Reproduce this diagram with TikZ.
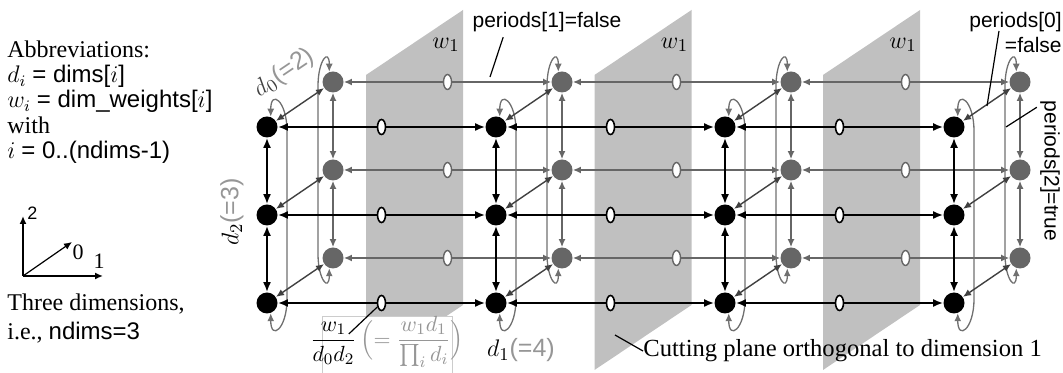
\documentclass[tikz,border=0pt]{standalone}
\usepackage{amsmath}
\usepackage{fontspec}
\setmainfont{Liberation Serif}
\setsansfont{Liberation Sans}
\usetikzlibrary{positioning,arrows.meta,calc,shapes.geometric}
\definecolor{planegray}{RGB}{192,192,192}
\definecolor{backgray}{RGB}{102,102,102}
\definecolor{diaggray}{RGB}{64,64,64}
\definecolor{loopgray}{RGB}{112,112,112}
\definecolor{labelgray}{RGB}{150,150,150}
\tikzset{
  frontdot/.style={circle, fill=black, minimum size=10.5pt, inner sep=0pt},
  backdot/.style={circle, fill=backgray, minimum size=10.5pt, inner sep=0pt},
  frontlink/.style={{Latex[length=5pt,width=4pt]}-{Latex[length=5pt,width=4pt]}, line width=0.9pt, black},
  backlink/.style={{Latex[length=4pt,width=3.5pt]}-{Latex[length=4pt,width=3.5pt]}, line width=0.7pt, backgray},
  diaglink/.style={{Latex[length=4pt,width=3.5pt]}-{Latex[length=4pt,width=3.5pt]}, line width=0.7pt, diaggray},
  wraploop/.style={{Latex[length=4pt,width=3.5pt]}-{Latex[length=4pt,width=3.5pt]}, line width=0.65pt, loopgray},
  frontmark/.style={ellipse, draw=black, fill=white, line width=0.8pt, minimum width=4pt, minimum height=7.5pt, inner sep=0pt},
  backmark/.style={ellipse, draw=backgray, fill=white, line width=0.7pt, minimum width=4pt, minimum height=7.5pt, inner sep=0pt},
  cutplane/.style={fill=planegray, draw=none},
  leader/.style={line width=0.6pt, black},
  axisarrow/.style={-{Latex[length=4pt,width=3.5pt]}, line width=0.9pt},
  sidetext/.style={align=left, inner sep=0pt, font=\fontsize{12}{12.7}\selectfont},
  tagtext/.style={inner sep=0pt, font=\sffamily\fontsize{10.5}{12.5}\selectfont},
  dimlabel/.style={inner sep=0pt, font=\fontsize{12.5}{12.5}\selectfont},
  weightlabel/.style={inner sep=0pt, font=\fontsize{12.5}{12.5}\selectfont}
}

\begin{document}
\begin{tikzpicture}[x=0.5pt, y=0.5pt]
  \useasboundingbox (0,0) rectangle (1063,373);

  % cutting planes orthogonal to dimension 1
  \foreach \p in {0,1,2}
    \fill[cutplane] ({366+228.5*\p},298) -- ({463+228.5*\p},363) -- ({463+228.5*\p},68) -- ({366+228.5*\p},3) -- cycle;
  \foreach \p in {0,1,2}
    \node[weightlabel] (wlab\p) at ({446+228.5*\p},328) {$w_1$};

  % processes: front layer (black) and back layer (gray)
  \foreach \c in {1,...,4}
    \foreach \r in {1,2,3} {
      \node[frontdot] (f\c\r) at ({267+229*(\c-1)},{246-88*(\r-1)}) {};
      \node[backdot] (k\c\r) at ({333+229*(\c-1)},{291-88*(\r-1)}) {};
    }

  % back layer links
  \foreach \c [evaluate=\c as \nx using int(\c+1)] in {1,2,3}
    \foreach \r in {1,2,3}
      \draw[backlink] (k\c\r) -- node[backmark] (mk\c\r) {} (k\nx\r);
  \foreach \c in {1,...,4} {
    \draw[backlink] (k\c1) -- (k\c2);
    \draw[backlink] (k\c2) -- (k\c3);
  }

  % periodic wrap in dimension 2
  \foreach \c in {1,...,4} {
    \draw[wraploop] (k\c1.110) .. controls +(0,24) and +(0,26) .. ($(k\c1)+(-15,-4)$) -- ($(k\c3)+(-15,4)$) .. controls +(0,-26) and +(0,-24) .. (k\c3.-110);
    \draw[wraploop] (f\c1.70) .. controls +(0,28) and +(0,30) .. ($(f\c1)+(20,-4)$) -- ($(f\c3)+(20,4)$) .. controls +(0,-30) and +(0,-28) .. (f\c3.-70);
  }

  % links along dimension 0
  \foreach \c in {1,...,4}
    \foreach \r in {1,2,3}
      \draw[diaglink] (f\c\r) -- (k\c\r);

  % front layer links
  \foreach \c [evaluate=\c as \nx using int(\c+1)] in {1,2,3}
    \foreach \r in {1,2,3}
      \draw[frontlink] (f\c\r) -- node[frontmark] (mf\c\r) {} (f\nx\r);
  \foreach \c in {1,...,4} {
    \draw[frontlink] (f\c1) -- (f\c2);
    \draw[frontlink] (f\c2) -- (f\c3);
  }

  % dimension sizes
  \node[dimlabel, rotate=90] (dtwo) at (232,161) {$d_2$\textcolor{labelgray}{\sffamily(=3)}};
  \node[dimlabel, rotate=34, text=diaggray] (dzero) at (284,300) {$d_0$\textcolor{labelgray}{\sffamily(=2)}};
  \node[dimlabel] (done) at (521,23) {$d_1$\textcolor{labelgray}{\sffamily(=4)}};

  % edge weight
  \filldraw[draw=black!20, fill=white] (322,57) rectangle (452,-6);
  \node[inner sep=0pt, font=\fontsize{11}{11}\selectfont] (wfrac) at (387,31)
    {$\dfrac{w_1}{d_0d_2}$\,\textcolor{labelgray}{$\Bigl(=\dfrac{w_1d_1}{\prod\nolimits_i d_i}\Bigr)$}};
  \draw[leader] ($(wfrac.west)+(39,8)$) -- (mf13);

  % periods
  \node[tagtext] (per1) at (547,351) {periods[1]=false};
  \coordinate (per1tip) at (490,296);
  \draw[leader] ($(per1.south west)+(31,-5)$) -- (per1tip);
  \node[tagtext, align=right, anchor=east] (per0) at (1062,340) {periods[0]\\=false};
  \coordinate (per0tip) at (987,267);
  \draw[leader] ($(per0.west)+(30,2)$) -- (per0tip);
  \node[tagtext, rotate=-90] (per2) at (1050,202) {periods[2]=true};
  \coordinate (per2tip) at (1006,246);
  \draw[leader] ($(per2.south west)+(-3,-7)$) -- (per2tip);

  % cutting plane note
  \node[anchor=west, inner sep=0pt, font=\fontsize{12.3}{12.3}\selectfont] (cutlab) at (643,22) {Cutting plane orthogonal to dimension 1};
  \coordinate (cuttip) at (615,38);
  \draw[leader] (cutlab.west) -- (cuttip);

  % legend
  \node[sidetext, anchor=north west] (abbr) at (7,333) {Abbreviations:\\
    $d_i$ \textsf{= dims[}$i$\textsf{]}\\
    $w_i$ \textsf{= dim\_weights[}$i$\textsf{]}\\
    with\\
    $i$ \textsf{= 0..(ndims-1)}};
  \coordinate (ax0) at (23,97);
  \coordinate (ax1) at (103,97);
  \coordinate (ax2) at (23,157);
  \coordinate (axd) at (72,131);
  \draw[axisarrow] (ax0) -- (ax2);
  \draw[axisarrow] (ax0) -- (ax1);
  \draw[axisarrow, line width=0.6pt] (ax0) -- (axd);
  \node[inner sep=0pt, font=\sffamily\fontsize{9}{9}\selectfont, anchor=west] (axlab2) at (27,160) {2};
  \node[inner sep=0pt, font=\fontsize{11}{11}\selectfont] (axlab0) at (78,121) {0};
  \node[inner sep=0pt, font=\fontsize{11}{11}\selectfont] (axlab1) at (99,112) {1};
  \node[sidetext, anchor=north west, font=\fontsize{12}{14.5}\selectfont] (ndims) at (7,80) {Three dimensions,\\
    i.e., \textsf{ndims=3}};
\end{tikzpicture}
\end{document}
